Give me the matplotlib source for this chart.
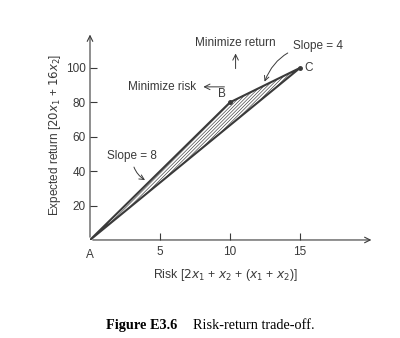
import matplotlib.pyplot as plt
from matplotlib.patches import Polygon

# corner points of the feasible risk/return region
labels = ["A", "B", "C"]
risk = [0, 10, 15]
ret = [0, 80, 100]

xticks = [5, 10, 15]
yticks = [20, 40, 60, 80, 100]

ink = "#3a3a3a"
fs = 8.5
plt.rcParams["font.family"] = ["Liberation Sans", "DejaVu Sans"]
plt.rcParams["hatch.linewidth"] = 0.45
plt.rcParams["hatch.color"] = "#707070"

fig = plt.figure(figsize=(4, 3.38), dpi=100)
ax = fig.add_axes([0.225, 0.29, 0.7125, 0.621])
ax.set_xlim(0, 20.36)
ax.set_ylim(0, 122)
for s in ax.spines.values():
    s.set_visible(False)

# axis arrows
ax.annotate("", xy=(20.3, 0), xytext=(0, 0),
            arrowprops=dict(arrowstyle="->", color=ink, lw=0.8))
ax.annotate("", xy=(0, 121), xytext=(0, 0),
            arrowprops=dict(arrowstyle="->", color=ink, lw=0.8))

ax.set_xticks(xticks)
ax.set_yticks(yticks)
ax.tick_params(axis="x", direction="in", length=5, width=0.8, color=ink,
               labelcolor=ink, labelsize=fs, pad=4)
ax.tick_params(axis="y", direction="in", length=5, width=0.8, color=ink,
               labelcolor=ink, labelsize=fs, pad=3)

# hatched region
poly = Polygon(list(zip(risk, ret)), closed=True, facecolor="none",
               edgecolor=ink, lw=1.5, hatch="//////////", joinstyle="round")
ax.add_patch(poly)
ax.plot(risk[1:], ret[1:], "o", color=ink, ms=2.5)

ax.text(risk[0], ret[0] - 5, labels[0], ha="center", va="top",
        color=ink, fontsize=fs)
ax.text(risk[1] - 0.3, ret[1] + 1.5, labels[1], ha="right", va="bottom",
        color=ink, fontsize=fs)
ax.text(risk[2] + 0.3, ret[2], labels[2], ha="left", va="center",
        color=ink, fontsize=fs)

# direction hints
ax.text(10.4, 111, "Minimize return", ha="center", va="bottom",
        color=ink, fontsize=fs)
ax.annotate("", xy=(10.4, 110), xytext=(10.4, 98),
            arrowprops=dict(arrowstyle="->", color=ink, lw=0.7))
ax.text(7.6, 89, "Minimize risk", ha="right", va="center",
        color=ink, fontsize=fs)
ax.annotate("", xy=(7.9, 89), xytext=(9.8, 89),
            arrowprops=dict(arrowstyle="->", color=ink, lw=0.7))

# slope callouts
ax.annotate("Slope = 4", xy=(12.4, 90.5), xytext=(14.5, 113),
            ha="left", va="center", color=ink, fontsize=fs,
            arrowprops=dict(arrowstyle="->", color=ink, lw=0.7,
                            connectionstyle="arc3,rad=0.35"))
ax.annotate("Slope = 8", xy=(4.1, 34), xytext=(3.0, 49),
            ha="center", va="center", color=ink, fontsize=fs,
            arrowprops=dict(arrowstyle="->", color=ink, lw=0.7,
                            connectionstyle="arc3,rad=0.3"))

ax.set_xlabel("Risk [$2x_1$ + $x_2$ + ($x_1$ + $x_2$)]", color=ink,
              fontsize=8.8)
ax.xaxis.set_label_coords(0.475, -0.13)
ax.set_ylabel("Expected return [$20x_1$ + $16x_2$]", color=ink,
              fontsize=fs, labelpad=2)

fig.text(0.265, 0.036, "Figure E3.6", family="Liberation Serif",
         weight="bold", fontsize=10.3, ha="left", va="center")
fig.text(0.4825, 0.036, "Risk-return trade-off.", family="Liberation Serif",
         fontsize=10.3, ha="left", va="center")

fig.savefig("out.png", dpi=100)
